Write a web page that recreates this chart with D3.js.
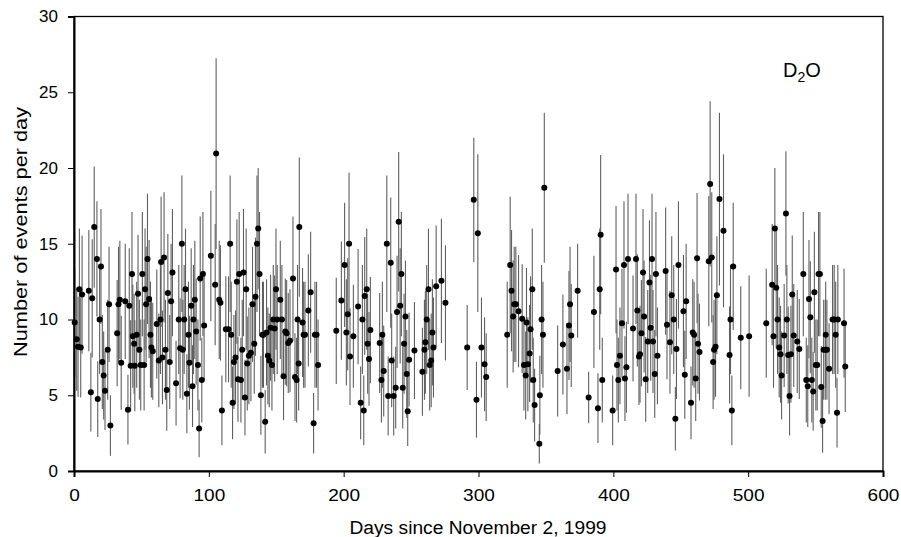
<!DOCTYPE html>
<html>
<head>
<meta charset="utf-8">
<script src="https://cdn.jsdelivr.net/npm/d3@7"></script>
<style>
  html, body { margin: 0; padding: 0; background: #fff; }
  svg { display: block; }
  text { font-family: "Liberation Sans", Arial, Helvetica, sans-serif; fill: #000; }
</style>
</head>
<body>
<svg id="chart" width="901" height="537"></svg>
<script>
// [day, events per day, error]
const seg1 = [[0.5,9.8,3.6],[2,8.7,3.4],[3,8.2,3.3],[4,12.0,4.0],[5,8.15,3.3],[6,11.65,3.9],[11,11.9,4.0],[12.5,5.2,2.6],[13.5,11.4,3.9],[15,16.1,4.0],[17,14.0,3.8],[17.6,4.75,2.5],[19,10.0,3.6],[20,13.5,3.8],[21,7.2,3.1],[22,6.3,2.9],[23,5.3,2.6],[25,8.0,3.3],[26,11.0,3.8],[27,3.0,2.0],[32,9.1,3.5],[33,11.0,3.8],[34,11.3,3.9],[35,7.15,3.1],[38,11.2,3.8],[40,4.05,2.3],[41,10.9,3.8],[42,6.95,3.0],[43,13.0,4.1],[43.6,8.9,3.4],[44.6,8.4,3.3],[45.1,6.95,3.0],[46.5,9.0,3.5],[47.5,11.7,3.9],[48.5,8.0,3.3],[49.5,7.0,3.0],[50.7,13.0,4.1],[52,7.0,3.0],[52.7,12.0,4.0],[53.5,11.0,3.8],[54.5,14.0,4.3],[55.7,11.35,3.9],[56.7,9.0,3.5],[57.4,8.15,3.3],[58.4,7.9,3.2],[61.4,9.7,3.6],[62.9,7.3,3.1],[64.1,10.0,3.6],[64.6,13.8,4.3],[65.6,7.5,3.1],[66.8,14.1,4.3],[67.8,8.0,3.3],[68.8,5.35,2.7],[69.6,11.75,3.9],[71,7.2,3.1],[72,11.2,3.8],[73,13.1,4.2],[75.7,5.8,2.8],[77.7,10.0,3.6],[78.7,8.1,3.3],[80,15.0,4.5],[80.7,8.0,3.3],[81.7,10.0,3.6],[82.7,12.0,4.0],[83.7,5.1,2.6],[84.9,9.0,3.5],[85.6,7.15,3.1],[86.9,10.9,3.8],[87.9,5.6,2.7],[88.6,10.0,3.6],[89.6,11.3,3.9],[90.6,9.2,3.5],[91.9,7.0,3.0],[92.8,2.8,1.9],[93.6,12.7,4.1],[94.8,6.0,2.8],[95.6,13.0,4.1],[96.5,9.6,3.6],[101.5,14.2,4.3],[104.7,12.3,4.0],[105.4,20.95,6.3],[107.7,11.3,3.9],[108.6,11.1,3.8],[109.7,4.0,2.3],[112.6,9.35,3.5],[114.6,9.35,3.5],[115.8,15.0,4.5],[116.6,9.0,3.5],[117.6,4.5,2.4],[118.6,7.2,3.1],[119.8,7.5,3.1],[120.8,12.5,4.1],[121.6,6.05,2.8],[122.5,13.0,4.1],[123.8,6.0,2.8],[124.8,8.0,3.3],[125.7,13.1,4.2],[126.8,4.85,2.5],[127.7,12.0,4.0],[128.5,7.1,3.1],[129.7,7.6,3.2],[131.2,7.8,3.2],[132.4,11.0,3.8],[133.7,8.4,3.3],[134.6,11.5,3.9],[135.7,15.0,4.5],[136.6,16.0,4.0],[137.6,13.0,4.1],[138.6,5.0,2.6],[139.8,9.0,3.5],[140.5,9.0,3.5],[141.8,3.25,2.1],[142.8,9.15,3.5],[143.8,7.6,3.2],[144.8,7.3,3.1],[145.8,9.45,3.5],[146.8,7.0,3.0],[147.8,10.0,3.6],[148.8,9.4,3.5],[149.8,12.0,4.0],[150.7,10.0,3.6],[153,11.3,3.9],[154.2,10.0,3.6],[155.4,6.25,2.9],[156.7,9.2,3.5],[157.7,9.1,3.5],[158.9,8.45,3.3],[160.2,8.6,3.4],[162.4,12.7,4.1],[163.9,6.2,2.9],[165.1,6.0,2.8],[165.8,10.0,3.6],[166.6,7.1,3.1],[167.1,16.1,4.6],[169.5,9.8,3.6],[170.3,9.0,3.5],[171.3,9.0,3.5],[173.8,10.6,3.7],[175.5,11.8,4.0],[177.7,3.15,2.0],[178.7,9.0,3.5],[179.9,9.0,3.5],[181,7.0,3.0]];
const seg2 = [[194.5,9.25,3.5],[198.3,11.25,3.9],[200.7,13.6,4.1],[202,9.15,3.5],[203,10.35,3.7],[204,15.0,4.7],[204.7,7.55,3.2],[207.2,8.9,3.4],[210.7,10.85,3.8],[212.6,4.5,2.4],[213.9,10.0,3.6],[214.9,4.0,2.3],[215.6,11.55,3.9],[217.1,12.0,4.0],[217.8,8.4,3.3],[218.8,7.4,3.1],[219.8,9.3,3.5],[226.7,8.45,3.3],[228,6.0,2.8],[228.7,9.0,3.5],[229.7,6.6,3.0],[232,15.0,4.5],[233,4.95,2.6],[234.9,13.75,4.3],[235.6,7.3,3.1],[237.1,4.95,2.6],[238.6,5.5,2.7],[239.6,10.5,3.7],[240.8,16.45,4.6],[241.9,10.9,3.8],[242.8,13.0,4.1],[243.8,5.5,2.7],[244.8,8.4,3.3],[245.8,10.2,3.7],[246.8,6.4,2.9],[247.5,3.95,2.3],[248.5,7.35,3.1],[252.5,7.95,3.2],[258.4,6.55,2.9],[259.9,8.0,3.3],[260.6,8.5,3.4],[261.6,10.0,3.6],[262.9,12.0,4.0],[263.8,7.0,3.0],[264.9,7.3,3.1],[265.8,9.15,3.5],[266.6,8.15,3.3],[268.6,12.2,4.0],[272.5,12.55,4.1],[275.5,11.1,3.8]];
const seg3 = [[291.6,8.15,2.8],[296.5,17.9,4.1],[298.5,4.7,2.5],[299.5,15.7,5.2],[302.2,8.15,3.3],[304.5,7.05,3.1],[305.7,6.2,2.9]];
const seg4 = [[321.3,9.0,3.5],[323.5,13.6,4.5],[324.5,11.9,4.0],[325.7,10.2,3.7],[326.5,11.0,3.8],[327.7,11.0,3.8],[329.7,10.55,3.7],[332.4,10.05,3.6],[333.7,7.0,3.0],[335,6.3,2.9],[335.6,9.8,3.6],[336.6,7.05,3.1],[337.9,7.75,3.2],[338.6,9.35,3.5],[339.9,12.0,4.0],[340.6,6.0,2.8],[341.6,4.35,2.4],[345.1,1.8,1.3],[345.5,5.0,2.6],[346.8,10.0,3.6],[347.8,9.0,3.5],[348.8,18.7,4.95]];
const seg5 = [[358.7,6.6,3.0],[362.6,8.35,3.3],[365.6,6.75,3.0],[367.1,9.6,3.6],[367.9,11.0,3.8],[368.8,8.95,3.4],[373.5,11.9,3.1]];
const seg6 = [[381.7,4.85,1.7],[385.6,10.5,3.7],[388.6,4.15,2.3],[389.9,12.0,4.0],[390.6,15.6,5.25],[391.8,6.0,2.8],[399.5,4.0,2.3],[402,13.3,4.2],[402.7,7.0,3.0],[403.7,6.0,2.8],[404.9,7.6,3.2],[406.4,9.75,3.6],[407.9,13.6,4.2],[408.6,6.1,2.8],[409.7,6.85,3.0],[410.9,14.0,4.3],[414.6,9.4,3.5],[416.8,14.0,4.3],[417.8,10.6,3.7],[419,7.55,3.2],[419.8,7.7,3.2],[420.8,9.1,3.5],[422,13.1,4.2],[422.8,10.2,3.7],[424,6.05,2.8],[425.5,8.55,3.4],[426.8,12.45,4.1],[427.7,9.45,3.5],[428.7,14.0,4.3],[429.4,8.55,3.4],[430.7,6.4,2.9],[431.6,13.0,4.1],[432.7,7.6,3.2],[438.8,13.2,4.2],[439.8,9.65,3.6],[442,8.5,3.4],[443.3,11.6,3.9],[444.8,10.0,3.6],[446,3.45,2.1],[446.8,8.05,3.3],[448.3,13.6,4.2],[452,10.55,3.7],[453,6.35,2.9],[454,11.2,3.8],[457.6,4.5,2.4],[458.9,9.15,3.5],[459.9,9.0,3.5],[461.1,6.1,2.8],[462.1,14.05,4.3],[462.8,8.4,3.3],[463.9,7.85,3.2],[470.8,13.85,4.3],[471.8,18.95,5.45],[473,14.1,4.3],[474,7.2,3.1],[474.7,8.0,3.3],[475.8,8.2,3.3],[476.8,11.6,3.9],[478.7,17.95,5.7],[481.7,15.85,5.05],[486.2,7.65,3.2],[486.9,10.0,3.6],[487.9,4.0,2.3],[488.9,13.5,4.2],[494.5,8.8,3.4],[500.7,8.9,4.0]];
const seg7 = [[513.4,9.75,3.6],[517.8,12.3,4.0],[518.8,8.9,3.4],[519.8,16.0,4.0],[520.8,12.1,4.0],[521.8,10.0,3.6],[523,8.15,3.3],[524,7.7,3.2],[524.8,6.3,2.9],[526.7,8.95,3.4],[528,17.0,4.1],[528.7,10.0,3.6],[529.7,7.65,3.2],[530.7,4.95,2.6],[531.7,7.7,3.2],[532.7,11.65,3.9],[533.8,8.95,3.4],[536.4,8.55,3.4],[537.9,8.05,3.3],[540.9,13.0,4.1],[543.1,6.0,2.8],[544.2,5.6,2.7],[545.1,11.35,3.9],[546.1,10.15,3.7],[547.2,6.0,2.8],[548.2,5.25,2.6],[549.1,11.8,4.0],[550.2,7.0,3.0],[551.2,7.0,3.0],[552.2,13.0,4.1],[553.2,13.0,4.1],[554.2,5.55,2.7],[555.2,3.3,2.1],[556,8.0,3.3],[557.2,8.0,3.3],[557.5,9.0,3.5],[558.4,8.0,3.3],[560,6.75,3.0],[562.6,10.0,3.6],[563.8,10.0,3.6],[564.9,9.0,3.5],[565.9,3.85,2.3],[566.5,10.0,3.6],[571.1,9.75,3.6],[572,6.9,3.0]];

const xTicks = [0, 100, 200, 300, 400, 500, 600];
const yTicks = [0, 5, 10, 15, 20, 25, 30];
const xTitle = "Days since November 2, 1999";
const yTitle = "Number of events per day";

const data = [].concat(seg1, seg2, seg3, seg4, seg5, seg6, seg7)
  .map(r => ({ day: r[0], n: r[1], err: r[2] }));

const svg = d3.select("#chart");
const L = 74, R = 883, T = 16.5, B = 471;
const x = d3.scaleLinear().domain([0, 600]).range([L, R]);
const y = d3.scaleLinear().domain([0, 30]).range([B, T]);

// frame (top & right)
svg.append("rect").attr("x", L).attr("y", T).attr("width", R - L).attr("height", B - T)
  .attr("fill", "none").attr("stroke", "#000").attr("stroke-width", 1.3);

// error bars
svg.append("g").selectAll("line").data(data).join("line")
  .attr("x1", d => x(d.day)).attr("x2", d => x(d.day))
  .attr("y1", d => y(Math.max(0, d.n - d.err))).attr("y2", d => y(d.n + d.err))
  .attr("stroke", "#606060").attr("stroke-width", 1.1);

// points
svg.append("g").selectAll("circle").data(data).join("circle")
  .attr("cx", d => x(d.day)).attr("cy", d => y(d.n)).attr("r", 3)
  .attr("fill", "#000");

// axes
const xAxis = svg.append("g").attr("transform", `translate(0,${B})`)
  .call(d3.axisBottom(x).tickValues(xTicks).tickSize(6).tickPadding(12).tickFormat(d3.format("d")));
const yAxis = svg.append("g").attr("transform", `translate(${L},0)`)
  .call(d3.axisLeft(y).tickValues(yTicks).tickSize(6).tickPadding(10).tickFormat(d3.format("d")));

[xAxis, yAxis].forEach(g => {
  g.select(".domain").attr("stroke", "#000").attr("stroke-width", 2);
  g.selectAll(".tick line").attr("stroke", "#000").attr("stroke-width", 1);
});
xAxis.selectAll(".tick text").attr("font-size", 16.3).attr("fill", "#000")
  .attr("font-family", "Liberation Sans, Arial, sans-serif")
  .each(function () {
    const w = this.getComputedTextLength();
    d3.select(this).attr("textLength", w * 1.17).attr("lengthAdjust", "spacingAndGlyphs");
  });
yAxis.selectAll(".tick text").attr("font-size", 17).attr("fill", "#000")
  .attr("font-family", "Liberation Sans, Arial, sans-serif");

// titles
svg.append("text").attr("x", (349 + 607) / 2).attr("y", 534).attr("text-anchor", "middle")
  .attr("font-size", 17.6).attr("textLength", 257).attr("lengthAdjust", "spacingAndGlyphs")
  .text(xTitle);
svg.append("text").attr("transform", "translate(26.5,232) rotate(-90)").attr("text-anchor", "middle")
  .attr("font-size", 18.2).attr("textLength", 250).attr("lengthAdjust", "spacingAndGlyphs")
  .text(yTitle);

// D2O label
const lab = svg.append("text").attr("x", 783).attr("y", 76.7).attr("font-size", 20);
lab.append("tspan").text("D");
lab.append("tspan").attr("font-size", 14).attr("dy", 5.5).text("2");
lab.append("tspan").attr("dy", -5.5).text("O");
</script>
</body>
</html>
